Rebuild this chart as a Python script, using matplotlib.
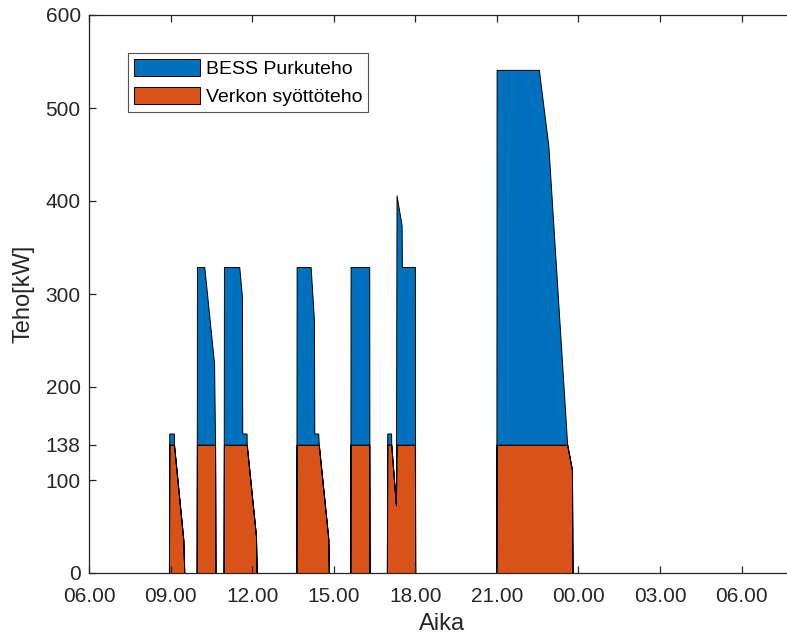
import matplotlib
matplotlib.use("Agg")
import matplotlib.pyplot as plt
from matplotlib.patches import Patch

# ---- data (time in hours from midnight of day 1; >24 = next day) ----
time_h = [7.00, 8.94, 8.952, 9.12, 9.125, 9.467, 9.504,
          9.96, 9.97, 10.24, 10.60, 10.635, 10.65,
          10.95, 10.963, 11.526, 11.625, 11.635, 11.795, 11.80, 12.14, 12.166,
          13.625, 13.636, 14.151, 14.272, 14.285, 14.43, 14.45, 14.80, 14.82,
          15.61, 15.62, 16.305, 16.315,
          16.955, 16.967, 17.11, 17.115, 17.287, 17.31, 17.496, 17.507, 17.985, 17.995,
          20.98, 20.99, 22.544, 22.89, 22.90, 23.585, 23.76, 23.78,
          30.93]
grid_kw = [0, 0, 138, 138, 138, 36, 0,
           0, 138, 138, 138, 138, 0,
           0, 138, 138, 138, 138, 138, 138, 40, 0,
           0, 138, 138, 138, 138, 138, 138, 37, 0,
           0, 138, 138, 0,
           0, 138, 138, 138, 73, 138, 138, 138, 138, 0,
           0, 138, 138, 138, 138, 138, 111, 0,
           0]
bess_kw = [0, 0, 12, 12, 0, 0, 0,
           0, 191, 191, 87, 0, 0,
           0, 191, 191, 159, 12, 12, 0, 0, 0,
           0, 191, 191, 134, 12, 12, 0, 0, 0,
           0, 191, 191, 0,
           0, 12, 12, 0, 0, 268, 236, 191, 191, 0,
           0, 403, 403, 322, 318, 0, 0, 0,
           0]

series_labels = ["BESS Purkuteho", "Verkon syöttöteho"]
x_ticks = [6, 9, 12, 15, 18, 21, 24, 27, 30]
x_ticklabels = ["06.00", "09.00", "12.00", "15.00", "18.00", "21.00", "00.00", "03.00", "06.00"]
y_ticks = [0, 100, 138, 200, 300, 400, 500, 600]

blue = "#0072BD"
orange = "#D95319"
dark = "#262626"

plt.rcParams['font.family'] = ['Liberation Sans', 'DejaVu Sans']

fig = plt.figure(figsize=(7.87, 6.39), dpi=100)
ax = fig.add_axes([89/787, 66/639, (796-89)/787, 558/639])

ax.stackplot(time_h, grid_kw, bess_kw, colors=[orange, blue],
             edgecolor="black", linewidth=0.7)

ax.set_xlim(6, 32)
ax.set_ylim(0, 600)
ax.set_xticks(x_ticks)
ax.set_xticklabels(x_ticklabels)
ax.set_yticks(y_ticks)

for s in ax.spines.values():
    s.set_color(dark)
    s.set_linewidth(0.9)

ax.tick_params(axis='both', direction='in', length=5, width=0.9, color=dark,
               labelcolor=dark, labelsize=15, top=True, right=True)
ax.tick_params(axis='x', pad=10)
ax.tick_params(axis='y', pad=6)

ax.set_xlabel("Aika", fontsize=17, color=dark, labelpad=5)
ax.set_ylabel("Teho[kW]", fontsize=17, color=dark, labelpad=8)

handles = [Patch(facecolor=blue, edgecolor="black", linewidth=0.7),
           Patch(facecolor=orange, edgecolor="black", linewidth=0.7)]
leg = ax.legend(handles, series_labels, loc="upper left",
                bbox_to_anchor=((128-89)/707, (573-53)/558),
                borderaxespad=0, fontsize=14, frameon=True, fancybox=False,
                handlelength=3.4, handleheight=1.0, handletextpad=0.3,
                labelspacing=0.45, borderpad=0.3)
leg.get_frame().set_edgecolor(dark)
leg.get_frame().set_linewidth(0.8)
for t in leg.get_texts():
    t.set_color("black")

fig.savefig("out.png", dpi=100)
